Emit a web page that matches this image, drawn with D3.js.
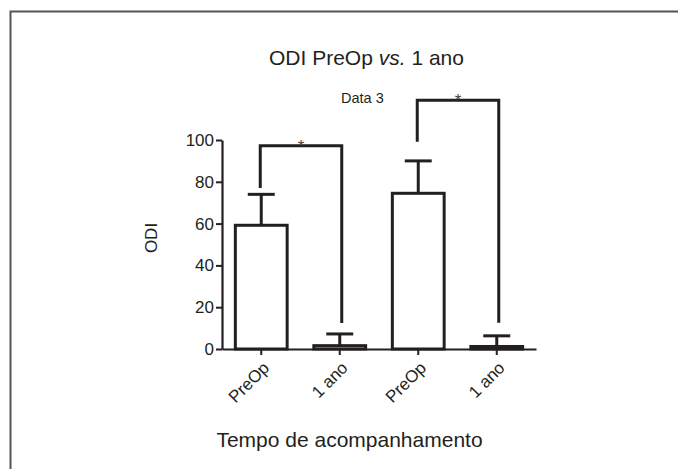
<!DOCTYPE html>
<html>
<head>
<meta charset="utf-8">
<script src="https://cdn.jsdelivr.net/npm/d3@7"></script>
<style>
  body { margin: 0; background: #fff; }
  svg { display: block; font-family: "Liberation Sans", Arial, sans-serif; }
</style>
</head>
<body>
<div id="chart"></div>
<script>
// data
const categories = ["PreOp", "1 ano", "PreOp", "1 ano"];
const means = [59.2, 1.6, 74.5, 1.2];
const sems = [14.8, 5.6, 15.5, 5.1];
const yTicks = [0, 20, 40, 60, 80, 100];
// significance brackets: bar indices, top level, bottom of left/right legs
const bracketFrom = [0, 2];
const bracketTo = [1, 3];
const bracketTop = [97.3, 119];
const bracketLeftEnd = [77, 99.2];
const bracketRightEnd = [12.5, 12.6];
const bracketLabel = ["*", "*"];

const w = 678;
const h = 469;
const ink = "#231f20";

const x = d3.scaleBand()
            .domain(d3.range(categories.length))
            .range([222, 536])
            .paddingInner(0.34)
            .paddingOuter(0.17);

const y = d3.scaleLinear()
            .domain([0, 100])
            .range([349, 140]);

const svg = d3.select("#chart")
              .append("svg")
              .attr("width", w)
              .attr("height", h);

// frame
svg.append("path")
   .attr("d", `M10.5,${h} L10.5,11.5 L${w},11.5`)
   .attr("fill", "none")
   .attr("stroke", "#555")
   .attr("stroke-width", 2);

// title
const title = svg.append("text")
                 .attr("x", 269)
                 .attr("y", 65)
                 .attr("font-size", 21)
                 .attr("fill", ink);
title.append("tspan").text("ODI PreOp ");
title.append("tspan").attr("font-style", "italic").text("vs.");
title.append("tspan").text(" 1 ano");

svg.append("text")
   .attr("x", 341)
   .attr("y", 103)
   .attr("font-size", 14.5)
   .attr("fill", ink)
   .text("Data 3");

// bars
svg.selectAll("rect.bar")
   .data(means)
   .enter()
   .append("rect")
   .attr("class", "bar")
   .attr("x", (d, i) => x(i))
   .attr("y", d => y(d))
   .attr("width", x.bandwidth())
   .attr("height", d => y(0) - y(d))
   .attr("fill", (d, i) => i === 3 ? "#666" : "#fff")
   .attr("stroke", ink)
   .attr("stroke-width", 3);

// error bars (upper only)
const capW = x.bandwidth() * 0.52;
means.forEach((m, i) => {
  const cx = x(i) + x.bandwidth() / 2;
  svg.append("line")
     .attr("x1", cx).attr("x2", cx)
     .attr("y1", y(m)).attr("y2", y(m + sems[i]))
     .attr("stroke", ink).attr("stroke-width", 3);
  svg.append("line")
     .attr("x1", cx - capW / 2).attr("x2", cx + capW / 2)
     .attr("y1", y(m + sems[i])).attr("y2", y(m + sems[i]))
     .attr("stroke", ink).attr("stroke-width", 3);
});

// brackets
bracketFrom.forEach((f, i) => {
  const x1 = x(f) + x.bandwidth() / 2 - 1;
  const x2 = x(bracketTo[i]) + x.bandwidth() / 2 + 2;
  svg.append("path")
     .attr("d", `M${x1},${y(bracketLeftEnd[i])} L${x1},${y(bracketTop[i])} L${x2},${y(bracketTop[i])} L${x2},${y(bracketRightEnd[i])}`)
     .attr("fill", "none")
     .attr("stroke", ink)
     .attr("stroke-width", 3);
  svg.append("text")
     .attr("x", (x1 + x2) / 2)
     .attr("y", y(bracketTop[i]) + 6)
     .attr("text-anchor", "middle")
     .attr("font-size", 17)
     .attr("fill", "#444")
     .text(bracketLabel[i]);
});

// axes
const yAxis = d3.axisLeft(y)
                .tickValues(yTicks)
                .tickSize(6)
                .tickSizeOuter(0)
                .tickPadding(2);
const xAxis = d3.axisBottom(x)
                .tickFormat(i => categories[i])
                .tickSize(6)
                .tickSizeOuter(0);

const gy = svg.append("g")
              .attr("transform", "translate(222, 0)")
              .call(yAxis);
const gx = svg.append("g")
              .attr("transform", "translate(0, 349)")
              .call(xAxis);

[gx, gy].forEach(g => {
  g.select(".domain").attr("stroke", ink).attr("stroke-width", 2.2);
  g.selectAll(".tick line").attr("stroke", ink).attr("stroke-width", 2);
  g.selectAll(".tick text")
   .attr("fill", ink)
   .attr("font-size", 17)
   .attr("font-family", "Liberation Sans, Arial, sans-serif");
});

gx.selectAll(".tick text")
  .attr("text-anchor", "end")
  .attr("dy", null)
  .attr("y", null)
  .attr("transform", "translate(9, 20) rotate(-45)");

// axis titles
svg.append("text")
   .attr("transform", "translate(157, 238) rotate(-90)")
   .attr("text-anchor", "middle")
   .attr("font-size", 17)
   .attr("fill", ink)
   .text("ODI");

svg.append("text")
   .attr("x", 349.5)
   .attr("y", 447)
   .attr("text-anchor", "middle")
   .attr("font-size", 21)
   .attr("fill", ink)
   .text("Tempo de acompanhamento");
</script>
</body>
</html>
